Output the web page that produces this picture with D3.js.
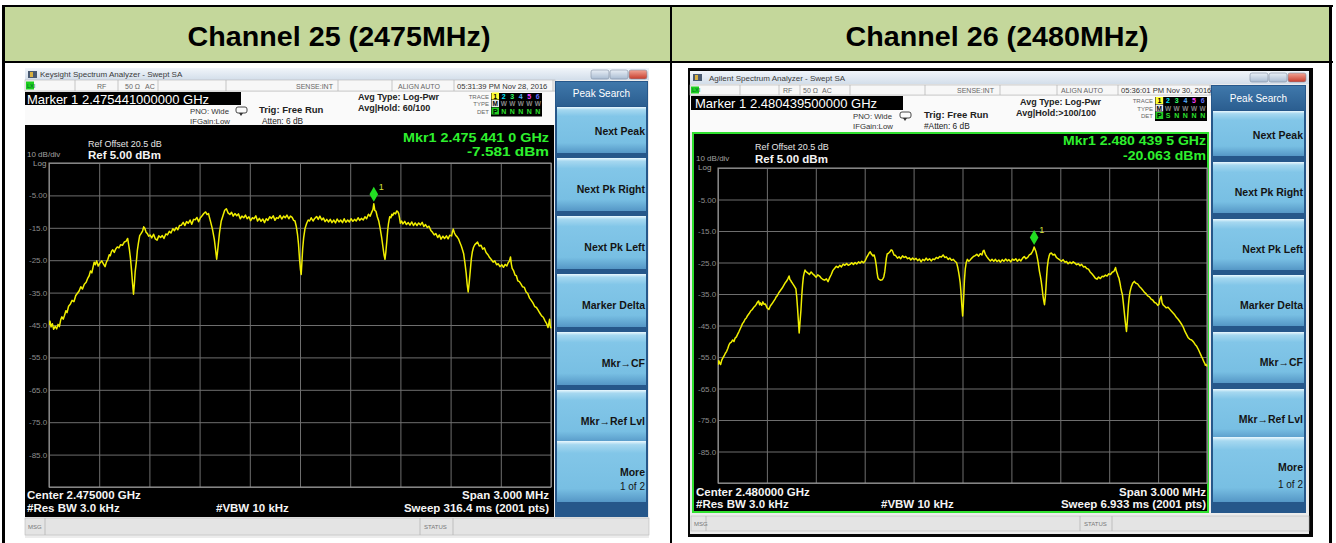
<!DOCTYPE html>
<html><head><meta charset="utf-8">
<script src="https://cdn.jsdelivr.net/npm/d3@7"></script>
<style>
body{margin:0;background:#fff;}
svg{display:block;font-family:"Liberation Sans",Arial,sans-serif;}
</style></head><body>
<svg id="c" width="1336" height="543"></svg>
<script>
// ---------------- DATA ----------------
const titles = ["Channel 25 (2475MHz)", "Channel 26 (2480MHz)"];
const windowTitles = ["Keysight Spectrum Analyzer - Swept SA", "Agilent Spectrum Analyzer - Swept SA"];
const timestamps = ["05:31:39 PM Nov 28, 2016", "05:36:01 PM Nov 30, 2016"];
const markerHeaders = ["Marker 1 2.475441000000 GHz", "Marker 1 2.480439500000 GHz"];
const avgHold = ["Avg|Hold: 60/100", "Avg|Hold:>100/100"];
const attenText = ["Atten: 6 dB", "#Atten: 6 dB"];
const detRow = [["P","N","N","N","N","N"], ["P","S","N","N","N","N"]];
const mkrFreqText = ["Mkr1 2.475 441 0 GHz", "Mkr1 2.480 439 5 GHz"];
const mkrLevelText = ["-7.581 dBm", "-20.063 dBm"];
const centerText = ["Center 2.475000 GHz", "Center 2.480000 GHz"];
const sweepText = ["Sweep  316.4 ms (2001 pts)", "Sweep  6.933 ms (2001 pts)"];
const softkeyLabels = ["Next Peak", "Next Pk Right", "Next Pk Left", "Marker Delta", "Mkr\u2192CF", "Mkr\u2192Ref Lvl", "More"];
const yGridValues = [5, -5, -15, -25, -35, -45, -55, -65, -75, -85, -95];
const yTickValues = [-5, -15, -25, -35, -45, -55, -65, -75, -85];
const yTickLabels = ["-5.00", "-15.0", "-25.0", "-35.0", "-45.0", "-55.0", "-65.0", "-75.0", "-85.0"];
const xDivisionsKHz = [-1500, -1200, -900, -600, -300, 0, 300, 600, 900, 1200, 1500];
const markerFreqKHz = [441, 439.5];
const markerLevelDbm = [-7.581, -20.063];

// trace: [offset from center frequency (kHz), level (dBm)]
const ch25Trace = [[-1500,-45],[-1494,-43.8],[-1488,-45.6],[-1480,-44.6],[-1472,-46.3],[-1463,-45.4],[-1454,-46.2],[-1446,-44.8],[-1438,-45.5],[-1430,-43.4],[-1423,-42.5],[-1415,-43.2],[-1407,-42],[-1399,-40.6],[-1392,-41.2],[-1383,-39.2],[-1372,-38.5],[-1362,-37.4],[-1351,-37.8],[-1340,-35.9],[-1330,-35.2],[-1320,-34.5],[-1310,-33.2],[-1300,-33.9],[-1289,-32.4],[-1278,-31.8],[-1268,-30.5],[-1260,-29.8],[-1252,-28.3],[-1244,-28.9],[-1237,-27.2],[-1230,-25.6],[-1223,-26.4],[-1215,-25.2],[-1206,-26.8],[-1196,-25.9],[-1185,-25.2],[-1175,-26.1],[-1165,-27],[-1157,-25.6],[-1148,-24.7],[-1140,-23.3],[-1134,-23.6],[-1126,-22.2],[-1119,-21.8],[-1110,-22.6],[-1102,-21.6],[-1092,-20.9],[-1082,-21.2],[-1072,-20.2],[-1061,-20.4],[-1050,-19.4],[-1040,-19.2],[-1030,-18.3],[-1020,-21.5],[-1013,-24.5],[-1007,-28],[-1001,-32],[-995,-35.5],[-990,-32.5],[-985,-28.5],[-978,-25.5],[-972,-22],[-965,-19.5],[-958,-17.4],[-950,-16.8],[-941,-16],[-934,-14.7],[-927,-15.2],[-920,-16.4],[-912,-16.8],[-904,-17.6],[-896,-17.2],[-886,-18.1],[-875,-17],[-865,-18.4],[-854,-18.8],[-844,-17.5],[-833,-18],[-823,-17.4],[-813,-18.3],[-802,-16.9],[-792,-17.2],[-781,-16.1],[-771,-16.6],[-760,-15.3],[-750,-15.9],[-740,-14.9],[-730,-15.6],[-720,-14.3],[-709,-14.2],[-698,-13.3],[-688,-14.3],[-678,-13.1],[-668,-13.6],[-657,-12.6],[-647,-13.9],[-636,-12.4],[-626,-12.5],[-616,-11.8],[-606,-13.1],[-595,-11.9],[-585,-11.3],[-575,-10.6],[-564,-10.1],[-555,-10.9],[-547,-10.6],[-540,-12],[-533,-13.4],[-523,-15.5],[-512,-18.6],[-504,-22],[-498,-24.7],[-493,-22.5],[-489,-20.5],[-481,-16.5],[-471,-13],[-460,-11.2],[-450,-9.6],[-440,-9.1],[-430,-10.4],[-419,-10.9],[-409,-10.2],[-399,-11.4],[-389,-10.6],[-378,-11.3],[-368,-10.7],[-357,-12.2],[-347,-11.4],[-336,-11.9],[-326,-11.1],[-316,-12.2],[-305,-11.6],[-295,-12.8],[-285,-11.9],[-274,-12.2],[-264,-11.3],[-254,-12.9],[-243,-12.1],[-233,-13],[-222,-12.3],[-212,-13.4],[-202,-12.2],[-192,-12.7],[-181,-11.6],[-171,-12.1],[-160,-11.3],[-150,-12.7],[-140,-11.9],[-130,-12.1],[-119,-11.2],[-109,-12.3],[-98,-11.4],[-88,-11.9],[-78,-11.1],[-67,-12.2],[-57,-11.4],[-47,-11.8],[-38,-12.7],[-30,-12.9],[-22,-14.6],[-15,-17],[-9,-20],[-3,-24.5],[3,-28],[7,-29.4],[11,-26],[16,-21.5],[22,-18],[30,-15.2],[40,-13.6],[49,-12.6],[57,-12.9],[67,-11.9],[78,-12.9],[88,-12.1],[99,-11.5],[109,-12.4],[119,-11.4],[130,-12.6],[140,-12],[150,-13.1],[160,-12.4],[171,-13.2],[181,-12.4],[191,-13.4],[202,-12.6],[212,-13.5],[222,-12.3],[233,-13.2],[243,-12.6],[254,-13.4],[264,-12.2],[274,-13.3],[285,-12.6],[295,-13.2],[305,-12.2],[316,-13],[326,-12.4],[336,-12.9],[347,-11.9],[357,-12.7],[367,-12.1],[378,-12.6],[388,-11.6],[398,-12.2],[409,-10.8],[419,-11.4],[430,-10],[436,-9.4],[441,-7.581],[447,-9.6],[454,-9.9],[462,-11.6],[471,-13],[480,-15.5],[488,-18],[498,-21.8],[503,-23.6],[508,-24.7],[513,-22.5],[519,-19],[524,-15.8],[529,-13.6],[536,-11.6],[543,-11.9],[549,-10.8],[554,-11.2],[562,-10.4],[571,-10.7],[578,-9.8],[585,-10.1],[590,-10.6],[595,-12],[600,-13.6],[607,-12.9],[615,-13.8],[626,-13],[636,-14],[647,-13.4],[657,-14.2],[668,-13.2],[678,-14.3],[688,-13.5],[699,-14.3],[709,-13.5],[720,-14.1],[730,-13.3],[740,-14.6],[750,-14],[761,-14.9],[771,-14.5],[782,-15.8],[792,-16.4],[802,-17.2],[812,-16.8],[823,-18],[833,-17.2],[843,-18.5],[854,-17.6],[864,-18.3],[875,-17.5],[885,-18.4],[895,-17.3],[906,-17.5],[911,-16.2],[916,-15.4],[923,-16.6],[930,-17.3],[939,-17.8],[947,-18.4],[956,-19.6],[964,-20.6],[971,-21.8],[978,-23],[986,-26],[993,-29],[999,-32.5],[1005,-34.8],[1011,-32],[1018,-28],[1024,-24.5],[1030,-22.4],[1037,-21],[1045,-20.2],[1053,-19.8],[1061,-19.4],[1071,-20.6],[1082,-20.4],[1092,-21.6],[1102,-21.2],[1112,-22.6],[1123,-23.3],[1133,-24.2],[1143,-24.8],[1154,-25.6],[1164,-25.2],[1175,-26.4],[1185,-26.1],[1195,-27],[1206,-26.4],[1216,-27.2],[1226,-26.3],[1236,-26.8],[1244,-25.8],[1252,-25.2],[1258,-24],[1263,-26.2],[1268,-27.5],[1276,-28.2],[1285,-29.6],[1293,-29.8],[1302,-31.4],[1311,-31.6],[1320,-32.3],[1330,-33.2],[1341,-33.4],[1351,-34.8],[1361,-35.3],[1372,-36.7],[1382,-37.4],[1392,-38.2],[1403,-39.3],[1413,-39.6],[1423,-40.4],[1433,-41.3],[1444,-42.2],[1454,-42.6],[1465,-43.8],[1474,-44.6],[1482,-45.8],[1488,-44.2],[1492,-43.2],[1496,-45.6],[1500,-46]];

const ch26Trace = [[-1500,-57.5],[-1495,-56.2],[-1490,-56.9],[-1484,-57.4],[-1477,-56],[-1470,-55.3],[-1462,-54.6],[-1455,-53.8],[-1447,-53.2],[-1440,-52.3],[-1433,-51.2],[-1427,-50.6],[-1418,-50.3],[-1410,-49.6],[-1402,-50.1],[-1395,-49],[-1387,-48.6],[-1380,-47.8],[-1372,-47],[-1365,-46.2],[-1357,-45.3],[-1350,-44.4],[-1342,-43.9],[-1334,-43],[-1326,-42.6],[-1318,-41.8],[-1309,-41.2],[-1300,-40.4],[-1291,-40],[-1282,-39.3],[-1274,-38.9],[-1265,-38.3],[-1258,-37.6],[-1251,-37.2],[-1245,-38.4],[-1240,-37.8],[-1232,-38.6],[-1225,-37.5],[-1217,-38.3],[-1209,-38.2],[-1199,-39.4],[-1188,-39.9],[-1179,-38.8],[-1170,-38.2],[-1160,-37.4],[-1150,-36.6],[-1143,-35.9],[-1137,-35.6],[-1127,-34.6],[-1116,-33.8],[-1106,-33.1],[-1095,-32.1],[-1087,-31.4],[-1079,-30.9],[-1071,-30.1],[-1064,-29.3],[-1059,-30.4],[-1054,-30.7],[-1048,-31.3],[-1043,-31.6],[-1033,-32.4],[-1022,-33.4],[-1017,-36],[-1012,-39.5],[-1007,-43.5],[-1002,-47.4],[-997,-44],[-991,-40],[-986,-35.5],[-981,-32],[-976,-29.5],[-971,-28.3],[-966,-27.4],[-960,-27.9],[-950,-28.3],[-939,-28.8],[-929,-28],[-919,-28.6],[-908,-29.1],[-898,-29.7],[-888,-28.9],[-877,-29.3],[-866,-30],[-856,-30.4],[-846,-30.6],[-835,-30.2],[-825,-31.1],[-815,-29.8],[-805,-28.8],[-795,-27.5],[-784,-26.8],[-774,-26.2],[-763,-26.6],[-753,-25.9],[-743,-26.4],[-732,-25.5],[-722,-25.9],[-711,-25.3],[-701,-25.9],[-690,-25.6],[-680,-25.1],[-669,-25.6],[-659,-25],[-649,-25.5],[-638,-24.8],[-628,-25.2],[-618,-24.6],[-607,-25.1],[-597,-24.4],[-588,-23.4],[-580,-22.7],[-573,-22],[-566,-21.6],[-558,-22.4],[-549,-22.9],[-542,-22.6],[-535,-24],[-529,-26],[-524,-28.2],[-519,-29.8],[-514,-30.3],[-504,-30.6],[-493,-30.5],[-488,-30.1],[-483,-29.6],[-477,-28],[-472,-25.8],[-467,-23.6],[-462,-22.3],[-453,-22],[-445,-21.6],[-438,-21],[-431,-21.2],[-420,-22.6],[-410,-22.8],[-399,-23.6],[-389,-23.2],[-379,-23.8],[-368,-22.9],[-358,-23.4],[-348,-23.1],[-337,-23.8],[-327,-23.5],[-317,-24.2],[-306,-23.6],[-296,-24.1],[-285,-23.7],[-275,-24.4],[-264,-23.9],[-254,-24.8],[-244,-24],[-233,-24.4],[-223,-23.6],[-213,-24.3],[-202,-23.8],[-192,-24.5],[-182,-23.9],[-171,-24.1],[-161,-23.4],[-151,-23.7],[-140,-23.1],[-130,-23.3],[-119,-22.6],[-109,-23.4],[-99,-23.2],[-88,-24],[-78,-23.6],[-67,-24.3],[-57,-24],[-46,-24.6],[-36,-25.1],[-29,-26.6],[-24,-28],[-19,-29.6],[-14,-31.5],[-10,-34],[-5,-38],[1,-42],[5,-38.5],[9,-34],[12,-30.5],[17,-27],[23,-25],[30,-24],[39,-24.6],[47,-24.2],[57,-23.6],[67,-23.1],[78,-22.8],[88,-22.4],[99,-23],[109,-22.2],[119,-22.6],[126,-21.4],[132,-21.1],[140,-22.4],[150,-23.2],[160,-23.9],[171,-24.5],[181,-24],[192,-24.6],[202,-24],[212,-24.7],[223,-24.2],[233,-24.9],[244,-24.1],[254,-24.6],[265,-23.9],[275,-24.5],[285,-24.1],[296,-24.8],[306,-23.9],[317,-24.3],[327,-23.8],[337,-24.6],[348,-24],[358,-24.5],[369,-23.6],[379,-23.1],[389,-23.8],[400,-23.4],[410,-22.6],[420,-22.3],[428,-21.6],[434,-21],[439.5,-20.063],[445,-20.8],[451,-21.6],[457,-23],[462,-24.3],[467,-26],[472,-27.8],[478,-29.4],[483,-31],[488,-33],[493,-35.3],[498,-37],[503,-38.4],[508,-36],[512,-33],[516,-29.5],[520,-26.6],[526,-24.2],[532,-22.8],[538,-22.1],[545,-22],[555,-22.6],[566,-22.4],[576,-23.4],[586,-23.8],[597,-24.2],[607,-24.6],[617,-24.1],[628,-24.9],[638,-24.7],[648,-25.4],[659,-24.9],[669,-25.3],[679,-24.8],[690,-25.2],[700,-25.7],[711,-25.4],[721,-26],[731,-25.6],[742,-26.4],[752,-26.3],[762,-26.9],[773,-27.1],[783,-28],[794,-28.6],[804,-29.2],[815,-30],[825,-30.3],[835,-29.6],[846,-30.1],[856,-29.4],[866,-29.5],[877,-29],[887,-29.3],[898,-28.6],[908,-28.8],[918,-28.1],[929,-27.8],[934,-27.2],[939,-26.6],[944,-27.8],[950,-28.6],[955,-29.4],[960,-30],[966,-31.5],[971,-33],[976,-34.2],[981,-35.2],[987,-38],[993,-41],[999,-44],[1006,-46.9],[1010,-44.5],[1014,-41.5],[1018,-38.5],[1022,-36.3],[1028,-34.2],[1035,-32.8],[1044,-31.6],[1054,-31],[1064,-31.6],[1074,-31.8],[1085,-32.6],[1095,-33.1],[1105,-33.7],[1116,-34.5],[1126,-34.9],[1136,-35.6],[1147,-35.9],[1157,-36.6],[1167,-36.9],[1178,-37.7],[1188,-37.9],[1198,-38.6],[1205,-38.3],[1212,-36.5],[1219,-35.7],[1224,-37.6],[1230,-38.4],[1240,-38.9],[1250,-39.4],[1261,-39.2],[1271,-39.8],[1281,-40.4],[1292,-41],[1302,-41.6],[1312,-42.4],[1323,-43],[1334,-43.8],[1344,-44.6],[1354,-45.5],[1364,-46.8],[1375,-47.9],[1385,-48.9],[1396,-49.4],[1406,-49.6],[1417,-50.2],[1427,-51],[1437,-51.6],[1448,-52.7],[1454,-53.4],[1460,-54.1],[1466,-54.8],[1472,-55.4],[1480,-56.4],[1486,-57],[1490,-57.6],[1495,-57.4],[1500,-58]];
const traces = [ch25Trace, ch26Trace];

// ---------------- LAYOUT ----------------
const layouts = [
 { win:{x:25,y:68,w:624,h:470}, frame:null,
   tbarH:12, tbarText:[40,77], wbtnX:[591,610,629], wbtnY:70,
   status:{y:80,h:11,ty:88.5,seps:[75,118,158,226,338,392,454,553],rf:97,ohm:125,ac:145,sense:296,align:398,time:457},
   mbox:{x:25,y:92,w:216,h:13,tx:27,ty:103.5},
   info:{pno:[190,114],ifg:[190,123.5],icon:[236,107],trig:[259,113],atten:[262,123.5],avg:[358,100],hold:[358,111]},
   tr:{lbl:489,x:491,y:92,w:51,rows:[98.5,106,113.5]},
   black:{x:25,y:125,w:529,h:392}, green:false,
   refOff:[88,146.5], dbdiv:[27,157], ref:[88,158.5], log:[33,166],
   mkr:{x:549,y1:142,y2:155.5,w1:146,w2:82},
   grid:{x:49,y:163,w:502,h:324}, ylabX:29,
   bot:{y1:499,y2:511.5,lx:27,vbw:216,rx:549},
   soft:{x:555,y:81,w:93,h:436,hdrY:82,hdrH:24,hdrTy:97,labels:[131,189,247,305,363,421,472],more2:486,above:31,below:22,moreBot:502,tx:645},
   msg:{y:518,h:17,x:25,w:624,sep:[45,420,453],statusX:424}
 },
 { win:{x:690,y:71,w:619,h:463}, frame:{x:688,y:68,w:625,h:469},
   tbarH:13, tbarText:[709,80.5], wbtnX:[1250,1269,1288], wbtnY:73,
   status:{y:85,h:10,ty:92.5,seps:[740,779,800,850,925,1000,1057,1118,1210],rf:783,ohm:803,ac:822,sense:957,align:1061,time:1121},
   mbox:{x:691,y:96,w:212,h:14,tx:695,ty:107.5},
   info:{pno:[853,118.5],ifg:[853,128.5],icon:[900,112],trig:[924,117.5],atten:[924,128.5],avg:[1020,105],hold:[1016,116]},
   tr:{lbl:1153,x:1155,y:96,w:52,rows:[103,110.5,118]},
   black:{x:692,y:132,w:517,h:381}, green:true,
   refOff:[755,150], dbdiv:[696,160.5], ref:[755,162.5], log:[698,169.5],
   mkr:{x:1206,y1:145,y2:160,w1:143,w2:83},
   grid:{x:718,y:168,w:489,h:315}, ylabX:698,
   bot:{y1:495.5,y2:508,lx:696,vbw:881,rx:1206},
   soft:{x:1211,y:85,w:95,h:428,hdrY:86,hdrH:24,hdrTy:102,labels:[135,192,249,305,362,419,467],more2:484,above:30,below:21,moreBot:502,tx:1303},
   msg:{y:516,h:15,x:691,w:618,sep:[706,1080,1112],statusX:1084}
 }
];

// ---------------- DRAW ----------------
const svg = d3.select("#c");
const defs = svg.append("defs");
function lg(id, stops){
  const g = defs.append("linearGradient").attr("id",id).attr("x1",0).attr("y1",0).attr("x2",0).attr("y2",1);
  stops.forEach(([o,c]) => g.append("stop").attr("offset",o).attr("stop-color",c));
}
lg("btn", [[0,"#eaf8fe"],[0.06,"#a6d8f0"],[0.2,"#82c6e8"],[0.78,"#78bfe3"],[1,"#5597c6"]]);
lg("hdr", [[0,"#3f78ab"],[1,"#2b5e90"]]);
lg("tbar", [[0,"#f1f5fa"],[1,"#d3deea"]]);
lg("wbtn", [[0,"#e9eff6"],[1,"#a9bcd2"]]);
lg("wclose", [[0,"#f2a596"],[1,"#c73b2b"]]);

function txt(g, x, y, s, o = {}) {
  const t = g.append("text").attr("x", x).attr("y", y).text(s)
    .attr("font-size", o.size || 8).attr("fill", o.fill || "#222")
    .attr("font-weight", o.bold ? "bold" : "normal")
    .attr("text-anchor", o.anchor || "start");
  if (o.len) t.attr("textLength", o.len).attr("lengthAdjust", "spacingAndGlyphs");
  return t;
}
function rect(g, x, y, w, h, fill, stroke, sw) {
  const r = g.append("rect").attr("x", x).attr("y", y).attr("width", w).attr("height", h).attr("fill", fill);
  if (stroke) r.attr("stroke", stroke).attr("stroke-width", sw || 1);
  return r;
}

// table
rect(svg, 5, 7, 1324, 54, "#c4d79b");
rect(svg, 2, 5, 1331, 2, "#000");
rect(svg, 2, 5, 3, 538, "#000");
rect(svg, 1329, 5, 3, 538, "#000");
rect(svg, 2, 61, 1331, 2, "#000");
rect(svg, 670, 5, 2, 538, "#000");
txt(svg, 339, 46, titles[0], {size:28, bold:true, anchor:"middle", fill:"#000", len:303});
txt(svg, 997, 46, titles[1], {size:28, bold:true, anchor:"middle", fill:"#000", len:303});

function drawAnalyzer(P, k) {
  const g = svg.append("g");
  const W = P.win;
  if (P.frame) rect(g, P.frame.x, P.frame.y, P.frame.w, P.frame.h, "#050505");
  rect(g, W.x, W.y, W.w, W.h, "#ececec");
  // title bar
  rect(g, W.x, W.y, W.w, P.tbarH, "url(#tbar)");
  rect(g, W.x + 3, W.y + 3, 9, 7, "#4a5a70");
  rect(g, W.x + 5, W.y + 4, 3, 5, "#d8b040");
  txt(g, P.tbarText[0], P.tbarText[1], windowTitles[k], {size:8, fill:"#3a3a3a"});
  P.wbtnX.forEach((bx, i) => {
    rect(g, bx, P.wbtnY, 18, 9, i === 2 ? "url(#wclose)" : "url(#wbtn)", "#7f8fa3", 0.6).attr("rx", 2);
  });
  // status row
  const S = P.status;
  rect(g, W.x, S.y, P.soft.x - W.x, S.h, "#f7f7f7", "#b5b5b5", 0.6);
  S.seps.forEach(sx => g.append("line").attr("x1", sx).attr("x2", sx).attr("y1", S.y).attr("y2", S.y + S.h).attr("stroke", "#b0b0b0").attr("stroke-width", 0.7));
  rect(g, W.x + 1, S.y + 1.5, 8, S.h - 3, "#1ed01e");
  txt(g, W.x + 2, S.ty - 0.5, "LXI", {size:5.5, fill:"#063"});
  txt(g, S.rf, S.ty, "RF", {size:7, fill:"#666"});
  txt(g, S.ohm, S.ty, "50 \u03a9", {size:7, fill:"#666"});
  txt(g, S.ac, S.ty, "AC", {size:7, fill:"#666"});
  txt(g, S.sense, S.ty, "SENSE:INT", {size:7, fill:"#666"});
  txt(g, S.align, S.ty, "ALIGN AUTO", {size:7, fill:"#666"});
  txt(g, S.time, S.ty, timestamps[k], {size:7.6, fill:"#333"});
  // info area
  rect(g, W.x, P.mbox.y, P.soft.x - W.x, P.black.y - P.mbox.y, "#fafafa");
  rect(g, P.mbox.x, P.mbox.y, P.mbox.w, P.mbox.h, "#000");
  txt(g, P.mbox.tx, P.mbox.ty, markerHeaders[k], {size:13, fill:"#fff"});
  const I = P.info;
  txt(g, I.pno[0], I.pno[1], "PNO: Wide", {size:7.8, fill:"#333"});
  txt(g, I.ifg[0], I.ifg[1], "IFGain:Low", {size:7.8, fill:"#333"});
  g.append("rect").attr("x", I.icon[0]).attr("y", I.icon[1]).attr("width", 11).attr("height", 6).attr("rx", 2)
    .attr("fill", "none").attr("stroke", "#333").attr("stroke-width", 0.9);
  g.append("path").attr("d", `M${I.icon[0]+3},${I.icon[1]+6} l2,3 l2,-3 z`).attr("fill", "#333");
  txt(g, I.trig[0], I.trig[1], "Trig: Free Run", {size:9.5, bold:true, fill:"#222"});
  txt(g, I.atten[0], I.atten[1], attenText[k], {size:8.3, fill:"#222"});
  txt(g, I.avg[0], I.avg[1], "Avg Type: Log-Pwr", {size:9, bold:true, fill:"#222"});
  txt(g, I.hold[0], I.hold[1], avgHold[k], {size:9, bold:true, fill:"#222"});
  const T = P.tr;
  txt(g, T.lbl, T.rows[0], "TRACE", {size:6, fill:"#666", anchor:"end"});
  txt(g, T.lbl, T.rows[1], "TYPE", {size:6, fill:"#666", anchor:"end"});
  txt(g, T.lbl, T.rows[2], "DET", {size:6, fill:"#666", anchor:"end"});
  rect(g, T.x, T.y + 1, T.w, T.rows[2] - T.y + 2, "#000");
  const cw = T.w / 6;
  const traceCols = ["#000", "#00e5ff", "#33ff66", "#55b0ff", "#ff40ff", "#6070ff"];
  ["1","2","3","4","5","6"].forEach((c, i) => {
    if (i === 0) rect(g, T.x + 0.5, T.rows[0] - 6, cw - 1, 7, "#ffff33");
    txt(g, T.x + cw * i + cw / 2, T.rows[0], c, {size:7, bold:true, anchor:"middle", fill: traceCols[i]});
  });
  ["M","W","W","W","W","W"].forEach((c, i) => {
    if (i === 0) rect(g, T.x + 0.5, T.rows[1] - 6, cw - 1, 7, "#e8e8e8");
    txt(g, T.x + cw * i + cw / 2, T.rows[1], c, {size:6.5, bold:true, anchor:"middle", fill: i === 0 ? "#000" : "#888"});
  });
  detRow[k].forEach((c, i) => {
    if (i === 0) rect(g, T.x + 0.5, T.rows[2] - 6, cw - 1, 7, "#22cc22");
    txt(g, T.x + cw * i + cw / 2, T.rows[2], c, {size:7, bold:true, anchor:"middle", fill: i === 0 ? "#000" : "#2de02d"});
  });

  // black display
  const B = P.black;
  rect(g, B.x, B.y, B.w, B.h, "#000");
  if (P.green) rect(g, B.x + 1, B.y + 1, B.w - 2, B.h - 2, "none", "#2fe02f", 2);
  txt(g, P.refOff[0], P.refOff[1], "Ref Offset 20.5 dB", {size:9, fill:"#e6e6e6"});
  txt(g, P.dbdiv[0], P.dbdiv[1], "10 dB/div", {size:8, fill:"#a0a0a0"});
  txt(g, P.ref[0], P.ref[1], "Ref 5.00 dBm", {size:11.5, bold:true, fill:"#f4f4f4"});
  txt(g, P.log[0], P.log[1], "Log", {size:8, fill:"#a0a0a0"});
  txt(g, P.mkr.x, P.mkr.y1, mkrFreqText[k], {size:13.5, bold:true, fill:"#2ef02e", anchor:"end", len:P.mkr.w1});
  txt(g, P.mkr.x, P.mkr.y2, mkrLevelText[k], {size:13.5, bold:true, fill:"#2ef02e", anchor:"end", len:P.mkr.w2});

  const G = P.grid;
  const x = d3.scaleLinear().domain([-1500, 1500]).range([G.x, G.x + G.w]);
  const y = d3.scaleLinear().domain([-95, 5]).range([G.y + G.h, G.y]);
  const gx = g.append("g").attr("transform", `translate(0,${G.y + G.h})`)
    .call(d3.axisBottom(x).tickValues(xDivisionsKHz).tickSize(-G.h).tickFormat(""));
  gx.select(".domain").remove();
  gx.selectAll("line").attr("stroke", "#6e6e6e").attr("stroke-width", 1);
  const labelOf = v => { const i = yTickValues.indexOf(v); return i >= 0 ? yTickLabels[i] : ""; };
  const gy = g.append("g").attr("transform", `translate(${G.x},0)`)
    .call(d3.axisLeft(y).tickValues(yGridValues).tickSize(-G.w).tickFormat(labelOf));
  gy.select(".domain").remove();
  gy.selectAll("line").attr("stroke", "#6e6e6e").attr("stroke-width", 1);
  gy.selectAll("text").attr("x", P.ylabX - G.x).attr("text-anchor", "start")
    .attr("fill", "#8c8c8c").attr("font-size", 8).attr("font-family", "Liberation Sans, Arial, sans-serif");
  rect(g, G.x, G.y, G.w, G.h, "none", "#9a9a9a", 1);

  const clipId = "clip" + k;
  defs.append("clipPath").attr("id", clipId).append("rect").attr("x", G.x).attr("y", G.y - 20).attr("width", G.w + 1).attr("height", G.h + 20);
  const line = d3.line().x(d => x(d[0])).y(d => y(d[1]));
  g.append("path").datum(traces[k]).attr("d", line).attr("fill", "none")
    .attr("stroke", "#f0ee00").attr("stroke-width", 1.5).attr("stroke-linejoin", "round").attr("clip-path", `url(#${clipId})`);
  // marker
  const mx = x(markerFreqKHz[k]), my = y(markerLevelDbm[k]) - 9.5;
  g.append("path").attr("d", `M${mx},${my - 7.5} L${mx + 4.3},${my} L${mx},${my + 7.5} L${mx - 4.3},${my} Z`).attr("fill", "#22dd22");
  txt(g, mx + 5, my - 4, "1", {size:9, fill:"#d8e23a"});

  const Bt = P.bot;
  txt(g, Bt.lx, Bt.y1, centerText[k], {size:11.5, bold:true, fill:"#f4f4f4"});
  txt(g, Bt.lx, Bt.y2, "#Res BW 3.0 kHz", {size:11.5, bold:true, fill:"#f4f4f4"});
  txt(g, Bt.vbw, Bt.y2, "#VBW 10 kHz", {size:11.5, bold:true, fill:"#f4f4f4"});
  txt(g, Bt.rx, Bt.y1, "Span 3.000 MHz", {size:11.5, bold:true, fill:"#f4f4f4", anchor:"end"});
  txt(g, Bt.rx, Bt.y2, sweepText[k], {size:11.5, bold:true, fill:"#f4f4f4", anchor:"end"});

  // softkeys
  const K = P.soft;
  rect(g, K.x, K.y, K.w, K.h, "#26578a");
  rect(g, K.x + 1, K.hdrY, K.w - 2, K.hdrH, "url(#hdr)");
  txt(g, K.x + K.w / 2, K.hdrTy, "Peak Search", {size:10, fill:"#fff", anchor:"middle"});
  softkeyLabels.forEach((lab, i) => {
    const cy = K.labels[i];
    const top = i === 0 ? K.hdrY + K.hdrH + 1 : cy - K.above;
    const bot = i === softkeyLabels.length - 1 ? K.moreBot : cy + K.below;
    rect(g, K.x + 2, top, K.w - 4, bot - top, "url(#btn)");
    txt(g, K.tx, cy + 4, lab, {size:10.5, bold:true, fill:"#141414", anchor:"end"});
  });
  txt(g, K.tx, K.more2 + 3.5, "1 of 2", {size:10, fill:"#141414", anchor:"end"});

  // message bar
  const M = P.msg;
  rect(g, M.x, M.y, M.w, M.h, "#e4e4e4", "#b8b8b8", 0.6);
  M.sep.forEach(sx => g.append("line").attr("x1", sx).attr("x2", sx).attr("y1", M.y).attr("y2", M.y + M.h).attr("stroke", "#b0b0b0").attr("stroke-width", 0.7));
  txt(g, M.x + 3, M.y + M.h / 2 + 2.5, "MSG", {size:6, fill:"#777"});
  txt(g, M.statusX, M.y + M.h / 2 + 2.5, "STATUS", {size:6, fill:"#777"});
}
layouts.forEach((P, k) => drawAnalyzer(P, k));
</script>
</body></html>
